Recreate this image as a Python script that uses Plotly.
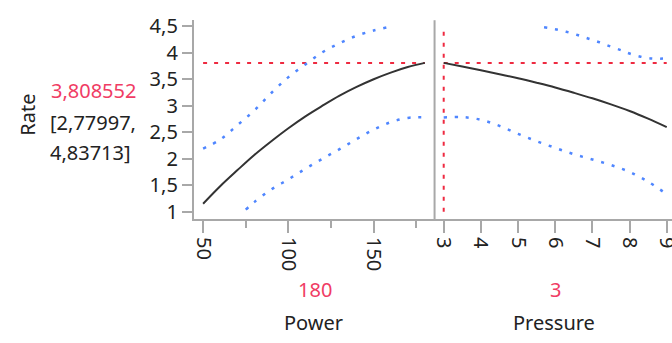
import plotly.graph_objects as go

# ---- data ----
response_name = "Rate"
current_rate = 3.808552
ci_low = 2.77997
ci_high = 4.83713

factor_names = ["Power", "Pressure"]
current_power = 180
current_pressure = 3
power_limits = [50, 180]
pressure_limits = [3, 9]

power_pts = [50, 60, 70, 80, 90, 100, 110, 120, 130, 140, 150, 160, 170, 180]
rate_power = [1.15, 1.48, 1.78, 2.07, 2.33, 2.575, 2.80, 3.00, 3.19, 3.355, 3.50, 3.625, 3.73, 3.8086]

upper_power_x = [50, 60, 70, 80, 90, 100, 110, 120, 130, 140, 150, 158]
upper_power = [2.19, 2.36, 2.63, 2.91, 3.24, 3.54, 3.78, 4.01, 4.18, 4.32, 4.42, 4.48]

lower_power_x = [75, 80, 90, 100, 110, 120, 130, 140, 150, 160, 170, 175, 180]
lower_power = [1.04, 1.18, 1.42, 1.61, 1.81, 2.00, 2.18, 2.37, 2.55, 2.69, 2.77, 2.78, 2.78]

pressure_pts = [3, 3.5, 4, 4.5, 5, 5.5, 6, 6.5, 7, 7.5, 8, 8.5, 9]
rate_pressure = [3.8086, 3.74, 3.67, 3.595, 3.52, 3.435, 3.345, 3.245, 3.14, 3.025, 2.90, 2.755, 2.595]

upper_pressure_x = [5.7, 6.0, 6.3, 6.6, 6.9, 7.2, 7.5, 7.8, 8.0, 8.3, 8.6, 8.9]
upper_pressure = [4.48, 4.445, 4.395, 4.335, 4.265, 4.195, 4.115, 4.04, 3.985, 3.925, 3.89, 3.89]

lower_pressure_x = [3, 3.5, 4, 4.5, 5, 5.5, 6, 6.5, 7, 7.5, 8, 8.5, 9]
lower_pressure = [2.78, 2.785, 2.735, 2.62, 2.47, 2.33, 2.205, 2.085, 1.985, 1.88, 1.75, 1.565, 1.33]

y_tickvals = [1, 1.5, 2, 2.5, 3, 3.5, 4, 4.5]
y_ticktext = ["1", "1,5", "2", "2,5", "3", "3,5", "4", "4,5"]
power_tickvals = [50, 100, 150]
power_minor_tickvals = [75, 125, 175]
pressure_tickvals = [3, 4, 5, 6, 7, 8, 9]

# ---- styles ----
W, H = 672, 343
FONT = "Noto Sans"
TXT = "#222222"
RED = "#f03c64"
REDLINE = "#ee2a40"
BLUE = "#4f86ff"
GRAY = "#a8a8a8"
FS = 20

def px(x):
    return x / W

def py(y):
    return 1 - y / H

fig = go.Figure()

def curve(x, y, xa, color, width, dash="solid", shape="spline"):
    fig.add_trace(go.Scatter(x=x, y=y, xaxis=xa, yaxis="y", mode="lines",
                             line=dict(color=color, width=width, dash=dash, shape=shape),
                             hoverinfo="skip", showlegend=False))

# Power panel
curve(power_limits, [current_rate, current_rate], "x", REDLINE, 2, "4px,7px", "linear")
curve(upper_power_x, upper_power, "x", BLUE, 2.5, "3px,8px")
curve(lower_power_x, lower_power, "x", BLUE, 2.5, "3px,8px")
curve(power_pts, rate_power, "x", "#333333", 2)

# Pressure panel
curve(pressure_limits, [current_rate, current_rate], "x2", REDLINE, 2, "4px,7px", "linear")
curve([current_pressure, current_pressure], [1.0, 4.48], "x2", REDLINE, 2, "4px,7px", "linear")
curve(upper_pressure_x, upper_pressure, "x2", BLUE, 2.5, "3px,8px")
curve(lower_pressure_x, lower_pressure, "x2", BLUE, 2.5, "3px,8px")
curve(pressure_pts, rate_pressure, "x2", "#333333", 2)

left, sep, right = 191.7, 433.5, 672
top, bottom = 12.7, 219.3

tickfont = dict(family=FONT, size=FS, color=TXT)
fig.update_layout(
    width=W, height=H, margin=dict(l=0, r=0, t=0, b=0),
    paper_bgcolor="white", plot_bgcolor="white",
    xaxis=dict(domain=[px(left), px(sep)], range=[44.57, 185.7], anchor="y",
               showgrid=False, zeroline=False, showline=True, linecolor=GRAY, linewidth=2,
               ticks="outside", ticklen=12, tickwidth=2, tickcolor=GRAY,
               tickvals=power_tickvals, tickangle=90, tickfont=tickfont,
               minor=dict(ticks="outside", ticklen=7, tickwidth=2, tickcolor=GRAY,
                          tickvals=power_minor_tickvals)),
    xaxis2=dict(domain=[px(sep), 1], range=[2.754, 9.142], anchor="y",
                showgrid=False, zeroline=False, showline=True, linecolor=GRAY, linewidth=2,
                ticks="outside", ticklen=12, tickwidth=2, tickcolor=GRAY,
                tickvals=pressure_tickvals, tickangle=90, tickfont=tickfont,
                ticklabeloverflow="allow", automargin=False),
    yaxis=dict(domain=[py(bottom), py(top)], range=[0.862, 4.614], anchor="x",
               showgrid=False, zeroline=False, showline=True, linecolor=GRAY, linewidth=2,
               ticks="outside", ticklen=10, tickwidth=2, tickcolor=GRAY,
               tickvals=y_tickvals, ticktext=y_ticktext, tickfont=tickfont),
)

# separator between panels
fig.add_shape(type="line", xref="paper", yref="paper",
              x0=px(sep), x1=px(sep), y0=py(bottom), y1=py(top),
              line=dict(color=GRAY, width=2))

def note(text, x, y, color=TXT, xanchor="center", angle=0):
    fig.add_annotation(text=text, x=px(x), y=py(y), xref="paper", yref="paper",
                       showarrow=False, xanchor=xanchor, yanchor="middle",
                       textangle=angle, font=dict(family=FONT, size=FS, color=color))

note(response_name, 25, 111, angle=-90)
note(f"{current_rate:.6f}".replace(".", ","), 46, 86, RED, "left")
note(f"[{ci_low:.5f},".replace(".", ","), 45, 119, TXT, "left")
note(f"{ci_high:.5f}]".replace(".", ","), 45, 150, TXT, "left")
note(str(current_power), 313, 293, RED)
note(str(current_pressure), 555, 293, RED)
note(factor_names[0], 312, 327)
note(factor_names[1], 553, 327)

clip_page = ("document.documentElement.style.overflow='hidden';"
             "document.body.style.overflow='hidden';"
             "document.body.style.margin='0';")
fig.write_html("out.html", post_script=clip_page)
